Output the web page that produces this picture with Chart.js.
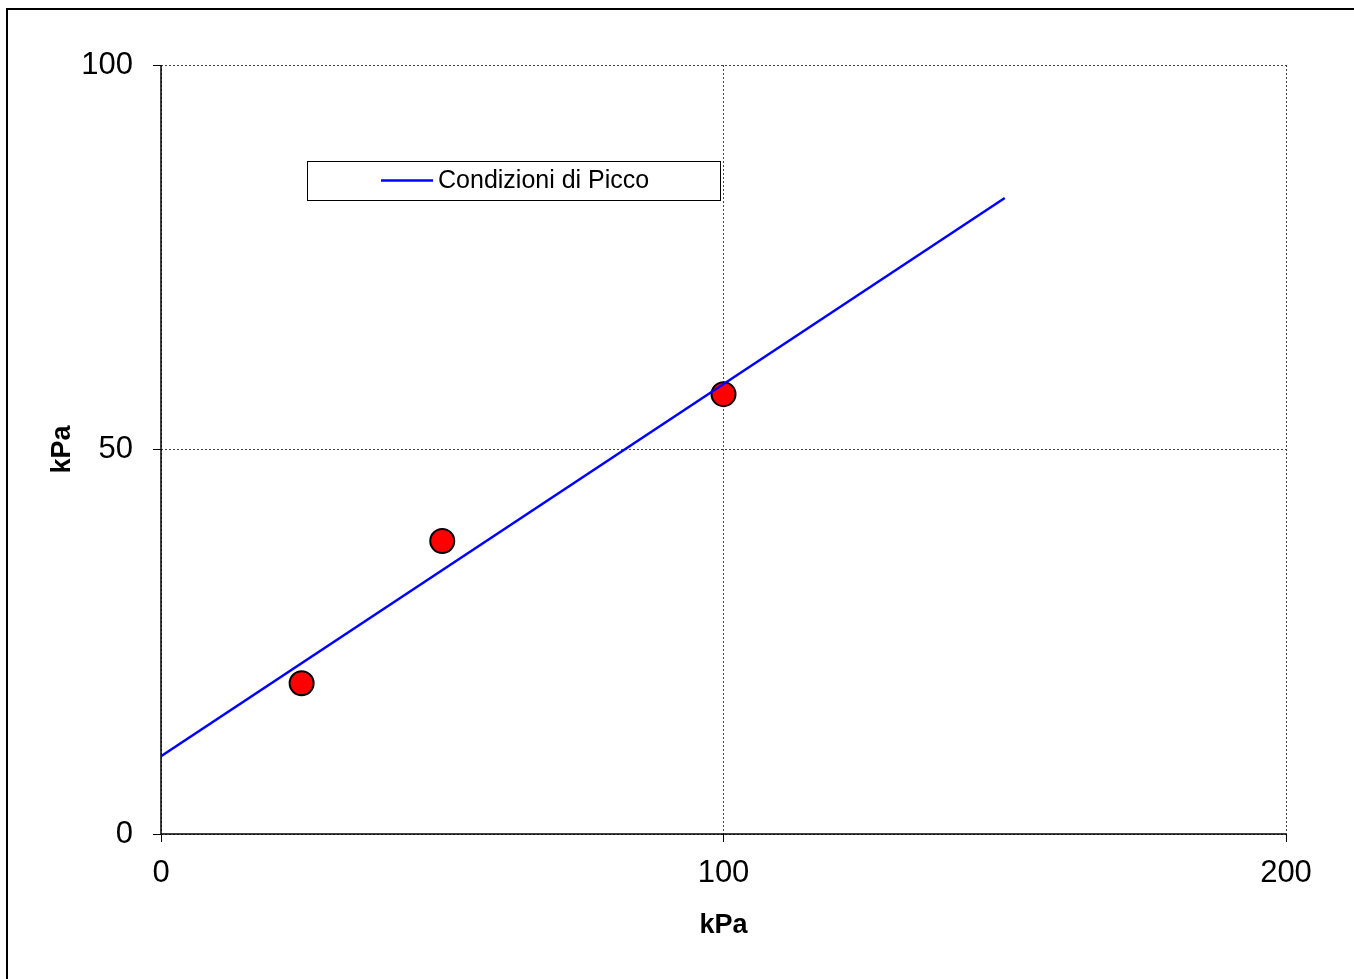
<!DOCTYPE html>
<html>
<head>
<meta charset="utf-8">
<script src="https://cdn.jsdelivr.net/npm/chart.js@4"></script>
<style>
  html, body { margin: 0; padding: 0; background: #fff; }
  canvas { display: block; }
</style>
</head>
<body>
<canvas id="picco" width="1354" height="979"></canvas>
<script>
// data
var fitX = [0, 150];
var fitY = [10.1, 82.7];
var testX = [25, 50, 100];
var testY = [19.6, 38.1, 57.2];
var legendLabel = 'Condizioni di Picco';
var axisTitle = 'kPa';

var FONT = "'Liberation Sans', Arial, sans-serif";

function pts(xs, ys) {
    return xs.map(function (x, i) { return { x: x, y: ys[i] }; });
}

// frame round the whole picture
var framePlugin = {
    id: 'frame',
    beforeDraw: function (chart) {
        var c = chart.ctx;
        c.save();
        c.fillStyle = '#fff';
        c.fillRect(0, 0, chart.width, chart.height);
        c.strokeStyle = '#000';
        c.lineWidth = 2;
        c.strokeRect(7, 9, chart.width + 20, chart.height + 20);
        c.restore();
    }
};

// solid axis lines on the left and bottom (gridlines stay dotted)
var axisLines = {
    id: 'axisLines',
    beforeDatasetsDraw: function (chart) {
        var a = chart.chartArea;
        var c = chart.ctx;
        c.save();
        c.strokeStyle = '#000';
        c.lineWidth = 1.5;
        c.setLineDash([]);
        c.beginPath();
        c.moveTo(a.left, a.top);
        c.lineTo(a.left, a.bottom);
        c.lineTo(a.right, a.bottom);
        c.stroke();
        c.restore();
    }
};

// boxed legend inside the plot area
var boxLegend = {
    id: 'boxLegend',
    afterDraw: function (chart) {
        var a = chart.chartArea;
        var c = chart.ctx;
        var w = a.right - a.left, h = a.bottom - a.top;
        var x0 = a.left + w * 0.1298, x1 = a.left + w * 0.4969;
        var y0 = a.top + h * 0.1248, y1 = a.top + h * 0.1756;
        var ym = (y0 + y1) / 2;
        c.save();
        c.fillStyle = '#fff';
        c.fillRect(x0, y0, x1 - x0, y1 - y0);
        c.strokeStyle = '#000';
        c.lineWidth = 1;
        c.strokeRect(Math.round(x0) + 0.5, Math.round(y0) + 0.5, Math.round(x1 - x0), Math.round(y1 - y0));
        c.strokeStyle = '#0000ff';
        c.lineWidth = 2.5;
        c.beginPath();
        c.moveTo(x0 + 74, ym);
        c.lineTo(x0 + 126, ym);
        c.stroke();
        c.fillStyle = '#000';
        c.font = '25px ' + FONT;
        c.textBaseline = 'middle';
        c.fillText(legendLabel, x0 + 131, ym + 1);
        c.restore();
    }
};

var ctx = document.getElementById('picco').getContext('2d');
var chart = new Chart(ctx, {
    type: 'scatter',
    data: {
        datasets: [{
            label: legendLabel,
            data: pts(fitX, fitY),
            showLine: true,
            borderColor: '#0000ff',
            borderWidth: 2.5,
            pointRadius: 0,
            fill: false
        }, {
            label: 'prove',
            data: pts(testX, testY),
            showLine: false,
            pointRadius: 12,
            pointBackgroundColor: '#ff0000',
            pointBorderColor: '#000',
            pointBorderWidth: 2
        }]
    },
    options: {
        responsive: false,
        animation: false,
        layout: { padding: { top: 65, right: 68, left: 0, bottom: 0 } },
        plugins: {
            legend: { display: false },
            tooltip: { enabled: false }
        },
        scales: {
            x: {
                type: 'linear',
                min: 0,
                max: 200,
                ticks: {
                    stepSize: 100,
                    color: '#000',
                    padding: 13,
                    maxRotation: 0,
                    font: { family: FONT, size: 31 }
                },
                grid: {
                    color: '#444',
                    lineWidth: 1,
                    tickLength: 8,
                    tickColor: '#000',
                    tickBorderDash: []
                },
                border: { display: false, dash: [2, 2] },
                title: {
                    display: true,
                    text: axisTitle,
                    color: '#000',
                    font: { family: FONT, size: 27, weight: 'bold' },
                    padding: { top: 0, bottom: 37 }
                },
                afterFit: function (s) { s.height = 979 - 834; }
            },
            y: {
                type: 'linear',
                min: 0,
                max: 100,
                ticks: {
                    stepSize: 50,
                    color: '#000',
                    padding: 20,
                    font: { family: FONT, size: 31 }
                },
                grid: {
                    color: '#444',
                    lineWidth: 1,
                    tickLength: 8,
                    tickColor: '#000',
                    tickBorderDash: []
                },
                border: { display: false, dash: [2, 2] },
                title: {
                    display: true,
                    text: axisTitle,
                    color: '#000',
                    font: { family: FONT, size: 27, weight: 'bold' },
                    padding: { top: 46, bottom: 0 }
                },
                afterFit: function (s) { s.width = 161; }
            }
        }
    },
    plugins: [framePlugin, axisLines, boxLegend]
});
</script>
</body>
</html>
